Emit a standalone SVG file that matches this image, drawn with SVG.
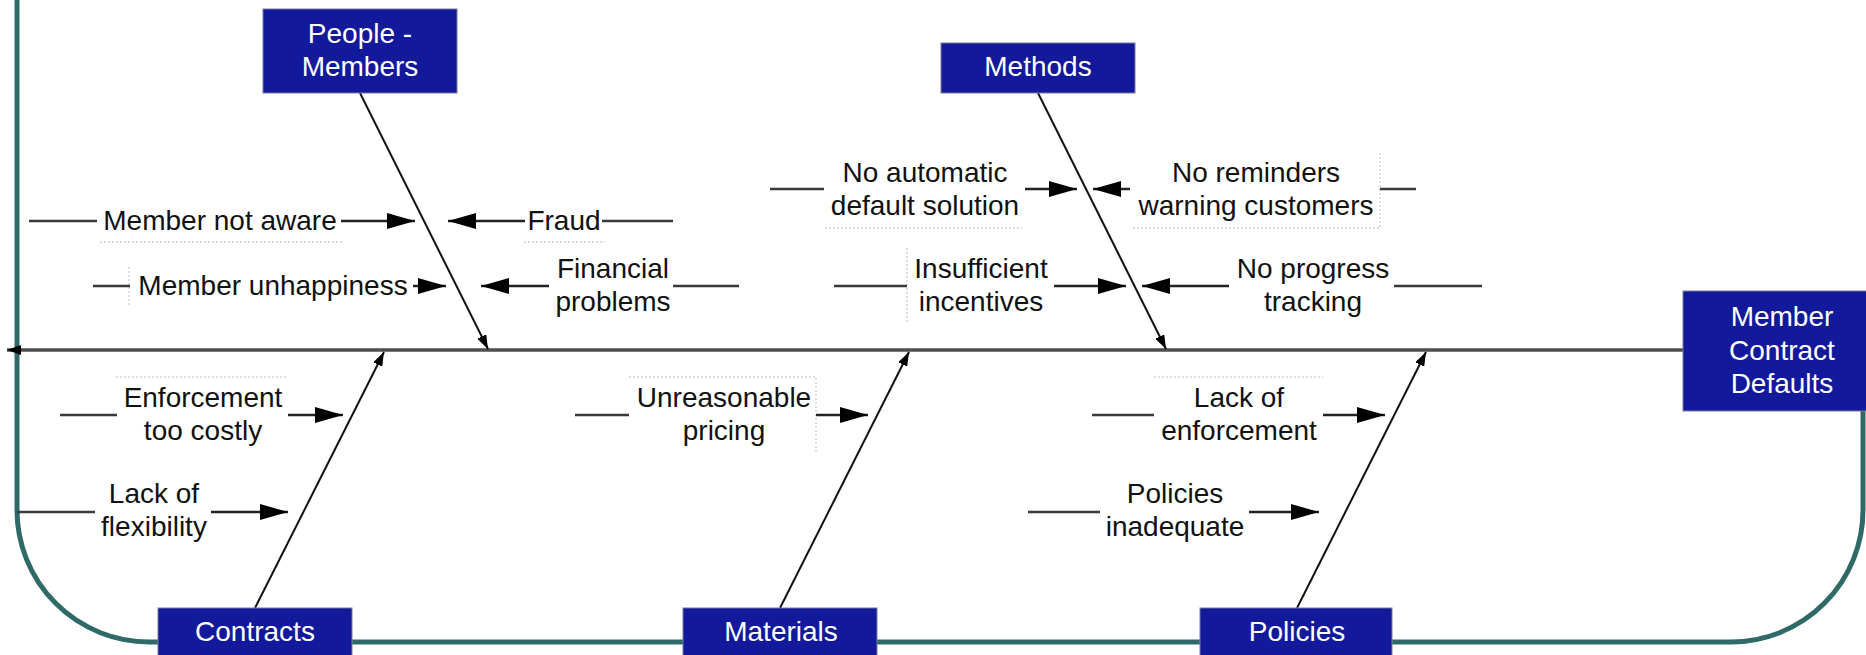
<svg xmlns="http://www.w3.org/2000/svg" width="1866" height="655" viewBox="0 0 1866 655">
<defs>
<style>
.box{fill:#13199b;stroke:#7a7a9a;stroke-width:1}
.bt{font-family:"Liberation Sans",Arial,sans-serif;font-size:28px;fill:#ffffff;text-anchor:middle}
.lt{font-family:"Liberation Sans",Arial,sans-serif;font-size:28px;fill:#111111;text-anchor:middle}
.seg{stroke:#3a3a3a;stroke-width:2.5;fill:none}
.arr{stroke:#222222;stroke-width:2.5;fill:none;marker-end:url(#ah)}
.bone{stroke:#111111;stroke-width:2;fill:none;marker-end:url(#sm)}
.frame{stroke:#d2d2d2;stroke-width:1.5;stroke-dasharray:2 2;fill:none}
</style>
<marker id="ah" markerUnits="userSpaceOnUse" viewBox="0 0 28 16" markerWidth="28" markerHeight="16" refX="28" refY="8" orient="auto">
<path d="M0,0 L28,8 L0,16 Z" fill="#000"/>
</marker>
<marker id="sm" markerUnits="userSpaceOnUse" viewBox="0 0 14 10" markerWidth="14" markerHeight="10" refX="14" refY="5" orient="auto">
<path d="M0,0 L14,5 L0,10 Z" fill="#000"/>
</marker>
</defs>
<rect width="1866" height="655" fill="#ffffff"/>
<path id="border" d="M17,0 L17,510 A132,132 0 0 0 149,642 L1731,642 A132,132 0 0 0 1863,510 L1863,411" fill="none" stroke="#2f6a68" stroke-width="5"/>

<g id="frames">
<path class="frame" d="M100,242 H343 M524,242 H605 M129,267 V305 M825,228 H1022 M1133,228 H1380 V152 M907,248 V323 M116,377 H288 M629,377 H816 V452 M1154,377 H1323"/>
</g>

<g id="connectors">
<line x1="1683" y1="350" x2="7" y2="350" stroke="#4d4d4d" stroke-width="3.5" marker-end="url(#sm)"/>
<line class="bone" x1="360" y1="93" x2="488" y2="349"/>
<line class="bone" x1="1038" y1="93" x2="1166" y2="349"/>
<line class="bone" x1="255" y1="608" x2="384" y2="352"/>
<line class="bone" x1="780" y1="608" x2="909" y2="352"/>
<line class="bone" x1="1297" y1="608" x2="1426" y2="352"/>
<!-- People causes -->
<line class="seg" x1="29" y1="221" x2="97" y2="221"/>
<line class="arr" x1="341" y1="221" x2="415" y2="221"/>
<line class="arr" x1="525" y1="221" x2="448" y2="221"/>
<line class="seg" x1="602" y1="221" x2="673" y2="221"/>
<line class="seg" x1="93" y1="286" x2="130" y2="286"/>
<line class="arr" x1="413" y1="286" x2="446" y2="286"/>
<line class="arr" x1="549" y1="286" x2="481" y2="286"/>
<line class="seg" x1="673" y1="286" x2="739" y2="286"/>
<!-- Methods causes -->
<line class="seg" x1="770" y1="189" x2="824" y2="189"/>
<line class="arr" x1="1025" y1="189" x2="1077" y2="189"/>
<line class="arr" x1="1130" y1="189" x2="1093" y2="189"/>
<line class="seg" x1="1380" y1="189" x2="1416" y2="189"/>
<line class="seg" x1="834" y1="286" x2="907" y2="286"/>
<line class="arr" x1="1054" y1="286" x2="1126" y2="286"/>
<line class="arr" x1="1229" y1="286" x2="1142" y2="286"/>
<line class="seg" x1="1394" y1="286" x2="1482" y2="286"/>
<!-- lower causes -->
<line class="seg" x1="60" y1="415" x2="117" y2="415"/>
<line class="arr" x1="288" y1="415" x2="343" y2="415"/>
<line class="seg" x1="17" y1="512" x2="95" y2="512"/>
<line class="arr" x1="211" y1="512" x2="288" y2="512"/>
<line class="seg" x1="575" y1="415" x2="629" y2="415"/>
<line class="arr" x1="816" y1="415" x2="868" y2="415"/>
<line class="seg" x1="1092" y1="415" x2="1154" y2="415"/>
<line class="arr" x1="1323" y1="415" x2="1385" y2="415"/>
<line class="seg" x1="1028" y1="512" x2="1100" y2="512"/>
<line class="arr" x1="1249" y1="512" x2="1319" y2="512"/>
</g>

<g id="people">
<rect class="box" x="263" y="9" width="194" height="84"/>
<text class="bt" x="360" y="43">People -</text>
<text class="bt" x="360" y="76">Members</text>
</g>
<g id="methods">
<rect class="box" x="941" y="43" width="194" height="50"/>
<text class="bt" x="1038" y="76">Methods</text>
</g>
<g id="effect">
<rect class="box" x="1683" y="291" width="190" height="120"/>
<text class="bt" x="1782" y="326">Member</text>
<text class="bt" x="1782" y="360">Contract</text>
<text class="bt" x="1782" y="393">Defaults</text>
</g>
<g id="contracts">
<rect class="box" x="158" y="608" width="194" height="60"/>
<text class="bt" x="255" y="641">Contracts</text>
</g>
<g id="materials">
<rect class="box" x="683" y="608" width="194" height="60"/>
<text class="bt" x="781" y="641">Materials</text>
</g>
<g id="policies">
<rect class="box" x="1200" y="608" width="192" height="60"/>
<text class="bt" x="1297" y="641">Policies</text>
</g>

<g id="c-member-not-aware"><text class="lt" x="220" y="230">Member not aware</text></g>
<g id="c-fraud"><text class="lt" x="564" y="230">Fraud</text></g>
<g id="c-member-unhappiness"><text class="lt" x="273" y="295">Member unhappiness</text></g>
<g id="c-financial"><text class="lt" x="613" y="278">Financial</text><text class="lt" x="613" y="311">problems</text></g>
<g id="c-no-automatic"><text class="lt" x="925" y="182">No automatic</text><text class="lt" x="925" y="215">default solution</text></g>
<g id="c-no-reminders"><text class="lt" x="1256" y="182">No reminders</text><text class="lt" x="1256" y="215">warning customers</text></g>
<g id="c-insufficient"><text class="lt" x="981" y="278">Insufficient</text><text class="lt" x="981" y="311">incentives</text></g>
<g id="c-no-progress"><text class="lt" x="1313" y="278">No progress</text><text class="lt" x="1313" y="311">tracking</text></g>
<g id="c-enforcement"><text class="lt" x="203" y="407">Enforcement</text><text class="lt" x="203" y="440">too costly</text></g>
<g id="c-flexibility"><text class="lt" x="154" y="503">Lack of</text><text class="lt" x="154" y="536">flexibility</text></g>
<g id="c-pricing"><text class="lt" x="724" y="407">Unreasonable</text><text class="lt" x="724" y="440">pricing</text></g>
<g id="c-lack-enforcement"><text class="lt" x="1239" y="407">Lack of</text><text class="lt" x="1239" y="440">enforcement</text></g>
<g id="c-policies-inadequate"><text class="lt" x="1175" y="503">Policies</text><text class="lt" x="1175" y="536">inadequate</text></g>
</svg>
